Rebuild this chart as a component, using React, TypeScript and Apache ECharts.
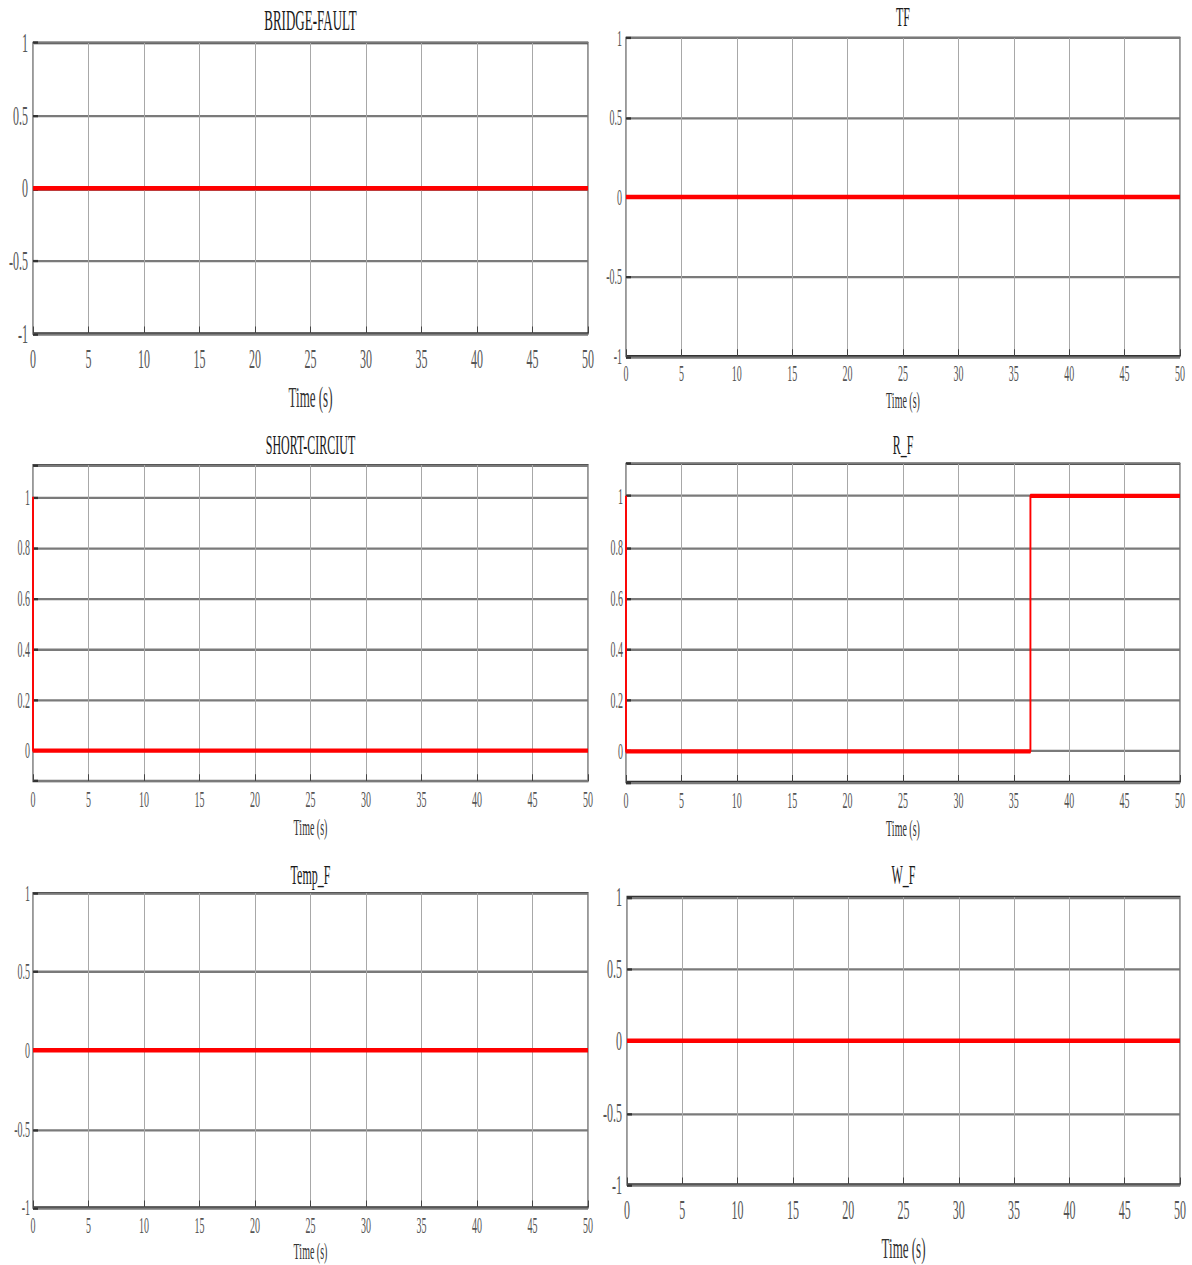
import React, { useEffect, useRef } from "react";
import * as echarts from "echarts";

// ---- data ----
const titles = ["BRIDGE-FAULT", "TF", "SHORT-CIRCIUT", "R_F", "Temp_F", "W_F"];

const bridgeTime = [0, 50];
const bridgeValue = [0, 0];

const tfTime = [0, 50];
const tfValue = [0, 0];

const shortTime = [0, 0, 50];
const shortValue = [1, 0, 0];

const rfTime = [0, 0, 36.5, 36.5, 50];
const rfValue = [1, 0, 0, 1, 1];

const tempTime = [0, 50];
const tempValue = [0, 0];

const wfTime = [0, 50];
const wfValue = [0, 0];

const xMin = 0;
const xMax = 50;
const xStep = 5;

const symRange = [-1, 1];
const symStep = 0.5;
const unitRange = [-0.12, 1.125];
const unitStep = 0.2;

const xName = "Time (s)";

// ---- layout (unscaled coordinates; the whole picture is stretched vertically) ----
const STRETCH = 2.3;
const W = 1192;
const H = 1265 / STRETCH;

type Layout = {
  left: number;
  top: number;
  width: number;
  height: number;
  titleTop: number;
  titleSize: number;
  tickSize: number;
  nameSize: number;
  xMargin: number;
  nameGap: number;
  yMargin: number;
};

const layouts: Layout[] = [
  { left: 33, top: 18.7, width: 555, height: 126.3, titleTop: 2.2, titleSize: 13, tickSize: 12, nameSize: 13, xMargin: 5, nameGap: 21, yMargin: 5 },
  { left: 626, top: 16.5, width: 554, height: 138.3, titleTop: 1.5, titleSize: 12, tickSize: 10, nameSize: 10, xMargin: 2.5, nameGap: 14, yMargin: 4 },
  { left: 33, top: 202.2, width: 555, height: 137.4, titleTop: 187.5, titleSize: 12, tickSize: 10, nameSize: 10, xMargin: 3, nameGap: 15, yMargin: 3 },
  { left: 626, top: 201.7, width: 554, height: 138.3, titleTop: 187.5, titleSize: 12, tickSize: 10, nameSize: 10, xMargin: 3, nameGap: 15, yMargin: 3 },
  { left: 33, top: 388.3, width: 555, height: 137, titleTop: 374.4, titleSize: 12, tickSize: 10, nameSize: 10, xMargin: 2.5, nameGap: 14, yMargin: 3 },
  { left: 627, top: 390, width: 553, height: 125.7, titleTop: 374.4, titleSize: 12, tickSize: 12, nameSize: 13, xMargin: 5, nameGap: 21, yMargin: 5 },
];

const FONT = "'Liberation Serif', 'DejaVu Serif', serif";

const panels = [
  { time: bridgeTime, value: bridgeValue, range: symRange, step: symStep },
  { time: tfTime, value: tfValue, range: symRange, step: symStep },
  { time: shortTime, value: shortValue, range: unitRange, step: unitStep },
  { time: rfTime, value: rfValue, range: unitRange, step: unitStep },
  { time: tempTime, value: tempValue, range: symRange, step: symStep },
  { time: wfTime, value: wfValue, range: symRange, step: symStep },
];

function fmt(v: number, step: number): string {
  const k = v / step;
  if (Math.abs(k - Math.round(k)) > 1e-6) return "";
  const r = Math.round(v * 1000) / 1000;
  return String(r);
}

function buildOption() {
  const grid: any[] = [];
  const xAxis: any[] = [];
  const yAxis: any[] = [];
  const series: any[] = [];
  const title: any[] = [];

  panels.forEach((p, i) => {
    const L = layouts[i];
    grid.push({
      left: L.left,
      top: L.top,
      width: L.width,
      height: L.height,
      show: true,
      borderColor: "#333333",
      borderWidth: 1,
      backgroundColor: "#ffffff",
      containLabel: false,
    });
    title.push({
      text: titles[i],
      left: L.left + L.width / 2,
      top: L.titleTop,
      textAlign: "center",
      padding: 0,
      textStyle: {
        fontFamily: FONT,
        fontSize: L.titleSize,
        fontWeight: "normal",
        color: "#1a1a1a",
      },
    });
    xAxis.push({
      type: "value",
      gridIndex: i,
      min: xMin,
      max: xMax,
      interval: xStep,
      name: xName,
      nameLocation: "middle",
      nameGap: L.nameGap,
      nameTextStyle: { fontFamily: FONT, fontSize: L.nameSize, color: "#333333" },
      axisLine: { show: false, onZero: false },
      axisTick: { show: true, inside: true, length: 3, lineStyle: { color: "#444444", width: 1 } },
      axisLabel: {
        margin: L.xMargin,
        fontFamily: FONT,
        fontSize: L.tickSize,
        color: "#555555",
        showMinLabel: true,
        showMaxLabel: true,
      },
      splitLine: { show: true, lineStyle: { color: "#a8a8a8", width: 1 } },
    });
    const isUnit = p.range === unitRange;
    yAxis.push({
      type: "value",
      gridIndex: i,
      min: p.range[0],
      max: p.range[1],
      ...(isUnit ? { splitNumber: 6 } : { interval: p.step }),
      axisLine: { show: false, onZero: false },
      axisTick: { show: true, inside: true, length: 5, lineStyle: { color: "#333333", width: 1 } },
      axisLabel: {
        margin: L.yMargin,
        fontFamily: FONT,
        fontSize: L.tickSize,
        color: "#555555",
        formatter: (v: number) => fmt(v, p.step),
      },
      splitLine: { show: true, lineStyle: { color: "#7a7a7a", width: 1 } },
    });
    series.push({
      type: "line",
      xAxisIndex: i,
      yAxisIndex: i,
      data: p.time.map((t, j) => [t, p.value[j]]),
      symbol: "none",
      showSymbol: false,
      clip: false,
      lineStyle: { color: "#ff0000", width: 1.9 },
      silent: true,
      z: 5,
    });
  });

  return {
    animation: false,
    backgroundColor: "#ffffff",
    textStyle: { fontFamily: FONT },
    title,
    grid,
    xAxis,
    yAxis,
    series,
  };
}

export default function App() {
  const ref = useRef<HTMLDivElement>(null);

  useEffect(() => {
    if (!ref.current) return;
    const chart = echarts.init(ref.current, undefined, { renderer: "svg" });
    chart.setOption(buildOption() as any);
    return () => {
      chart.dispose();
    };
  }, []);

  return (
    <div
      style={{
        position: "absolute",
        left: 0,
        top: 0,
        width: W,
        height: 1265,
        overflow: "hidden",
        background: "#ffffff",
      }}
    >
      <div
        ref={ref}
        style={{
          width: W,
          height: H,
          transform: `scaleY(${STRETCH})`,
          transformOrigin: "0 0",
        }}
      />
    </div>
  );
}
